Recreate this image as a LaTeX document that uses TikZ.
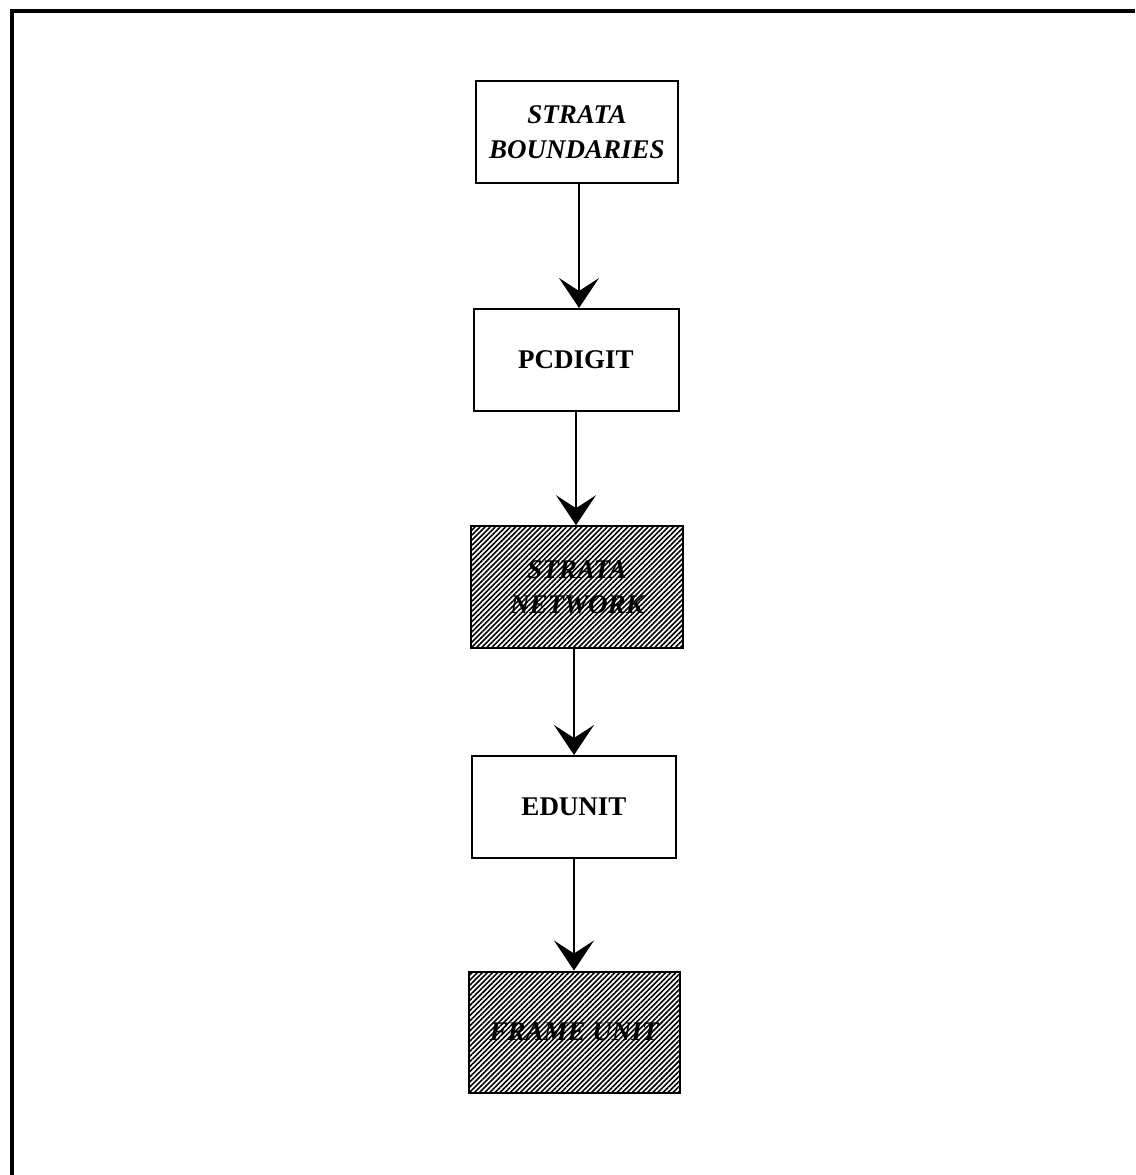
\documentclass[tikz,border=0pt]{standalone}
\usepackage{fontspec}
\setmainfont{Liberation Serif}
\usetikzlibrary{arrows.meta,patterns.meta}
\begin{document}
\begin{tikzpicture}[x=1pt,y=-1pt,
  boxnode/.style={draw=black,line width=2pt,inner sep=0pt,align=center,
    font=\fontsize{27}{35}\selectfont\bfseries},
  hatched/.style={boxnode,pattern={Lines[angle=45,distance=3.6pt,line width=1.6pt]}},
  conn/.style={line width=1.4pt,-{Stealth[length=30pt,width=40pt,inset=13pt]}},
  framel/.style={line width=3.5pt}
]
\useasboundingbox (0,0) rectangle (1135,1175);
\draw[framel] (12,1175) -- (12,11) -- (1135,11);

\node[boxnode,minimum width=202pt,minimum height=102pt] (sb) at (577,132)
  {\itshape STRATA\\\itshape BOUNDARIES};
\node[boxnode,minimum width=205pt,minimum height=102pt] (pc) at (576,360) {PCDIGIT};
\node[hatched,minimum width=212pt,minimum height=122pt] (sn) at (577,587)
  {\itshape STRATA\\\itshape NETWORK};
\node[boxnode,minimum width=204pt,minimum height=102pt] (ed) at (574,807) {EDUNIT};
\node[hatched,minimum width=211pt,minimum height=121pt] (fu) at (574,1032)
  {\itshape FRAME UNIT};

\draw[conn] ([xshift=2pt]sb.south) -- ([xshift=2pt]sb.south |- pc.north);
\draw[conn] (pc.south) -- (pc.south |- sn.north);
\draw[conn] (ed.north |- sn.south) -- (ed.north);
\draw[conn] (ed.south) -- (ed.south |- fu.north);
\end{tikzpicture}
\end{document}
